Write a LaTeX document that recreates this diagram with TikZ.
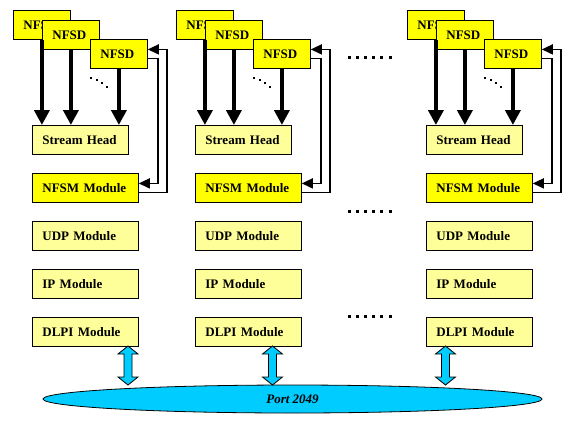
\documentclass[tikz,border=0pt]{standalone}
\usepackage{fontspec}
\setmainfont{Liberation Serif}
\usetikzlibrary{arrows.meta,shapes.geometric,calc}
\definecolor{yel}{HTML}{FFFF00}
\definecolor{lyel}{HTML}{FFFF99}
\definecolor{cyn}{HTML}{00CCFF}
\begin{document}
\begin{tikzpicture}[x=1pt,y=-1pt,
  font=\fontsize{13}{15}\selectfont\bfseries,
  box/.style={draw=black, line width=0.8pt, inner xsep=10pt, inner ysep=0pt,
    minimum height=29pt, anchor=north west, align=left},
  nfsdbox/.style={box, fill=yel, text width=37pt},
  shbox/.style={box, fill=lyel, text width=76pt},
  nfsmbox/.style={box, fill=yel, text width=86pt},
  modbox/.style={box, fill=lyel, text width=86pt},
  varrow/.style={line width=4pt, -{Triangle[length=15pt,width=15pt]}},
  farrow/.style={line width=1.5pt, -{Triangle[length=11pt,width=10pt]}},
  dblarrow/.style={draw=black, line width=0.8pt, fill=cyn, line join=miter}]
\useasboundingbox (0,0) rectangle (570,426);

\node[ellipse, draw=black, fill=cyn, line width=0.8pt, minimum width=499pt,
  minimum height=28pt, inner sep=0pt,
  font=\fontsize{13}{15}\selectfont\bfseries\itshape] (port) at (292.5,399) {Port 2049};

\foreach \c/\dx/\ax in {a/0/128, b/163/272.5, c/394/445.5} {
  \node[nfsdbox] (n1\c) at (13+\dx,10) {NFSD};
  \node[nfsdbox] (n2\c) at (42+\dx,20) {NFSD};
  \node[nfsdbox] (n3\c) at (90+\dx,39) {NFSD};
  \node[shbox] (sh\c) at (32+\dx,125) {Stream Head};
  \node[nfsmbox] (nfsm\c) at (32+\dx,173) {NFSM Module};
  \node[modbox] (udp\c) at (32+\dx,221) {UDP Module};
  \node[modbox] (ip\c) at (32+\dx,269) {IP Module};
  \node[modbox] (dlpi\c) at (32+\dx,317) {DLPI Module};

  \draw[varrow] (n1\c.south) -- (n1\c.south |- sh\c.north);
  \draw[varrow] (n2\c.south) -- (n2\c.south |- sh\c.north);
  \draw[varrow] (n3\c.south) -- (n3\c.south |- sh\c.north);

  \draw[farrow] ([yshift=-4.5pt]n3\c.east) -- ++(10,0) |- ([yshift=4.5pt]nfsm\c.east);
  \draw[farrow] ([yshift=-4.5pt]nfsm\c.east) -- ++(28,0) |- ([yshift=4.5pt]n3\c.east);

  \foreach \px/\py in {90.7/78.3, 96.7/80.3, 101.7/83, 107.3/86.7}
    \fill (\px+\dx-1,\py-1) rectangle ++(2,2);

  \coordinate (t\c) at (\ax,346);
  \coordinate (b\c) at (\ax,385);
  \path[dblarrow] (t\c) -- ++(10,8) -- ++(-6,0) -- ($(b\c)+(4,-8)$) -- ++(6,0)
    -- (b\c) -- ++(-10,-8) -- ++(6,0) -- ($(t\c)+(-4,8)$) -- ++(-6,0) -- cycle;
}

\foreach \yy in {57,211,316}
  \foreach \k in {0,...,5}
    \fill (349+8.2*\k-1.5,\yy-1.5) rectangle ++(3,3);
\end{tikzpicture}
\end{document}
